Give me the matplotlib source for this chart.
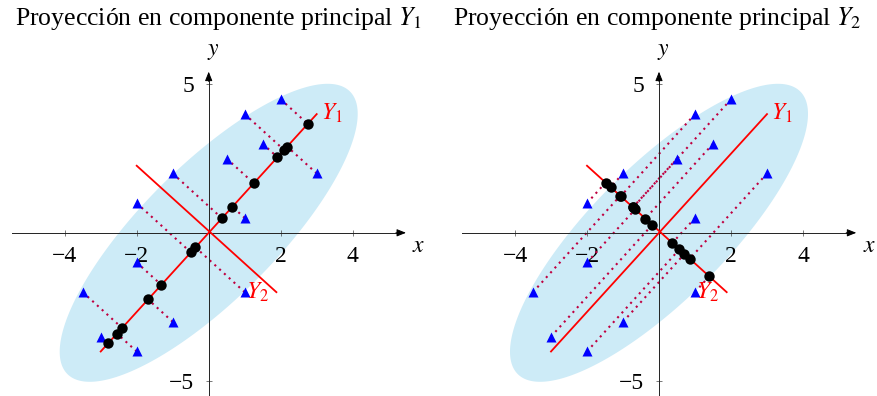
import numpy as np
import matplotlib.pyplot as plt

plt.rcParams['font.family'] = ['Liberation Serif', 'DejaVu Serif']
plt.rcParams['mathtext.fontset'] = 'stix'

# observaciones (x, y)
obs_x = [-3.5, -3, -2, -2, -2, -1, -1, 1, 0.5, 1, 1, 1.5, 2, 3]
obs_y = [-2, -3.5, -4, -1, 1, 2, -3, 4, 2.5, 0.5, -2, 3, 4.5, 2]

# extremos de las rectas de las componentes principales
y1_seg = [(-3.0, -4.0), (3.0, 4.0)]
y2_seg = [(-2.0, 2.26), (1.88, -2.0)]

xticks = [-4, -2, 2, 4]
yticks = [-5, 5]

# elipse: semiejes en unidades de x, girada 45 grados en pantalla
ell_a, ell_b, ell_ang = 5.55, 1.86, 45.0

c_ell = '#cdebf7'
c_proj = '#bf0040'
W, H = 877, 396

fig = plt.figure(figsize=(W / 100, H / 100), dpi=100)
ax1 = fig.add_axes([10.7 / W, 0, 396 / W, 326.4 / H])
ax2 = fig.add_axes([461 / W, 0, 396 / W, 326.4 / H])


def proyectar(ax, px, py, seg):
    # proyeccion ortogonal sobre la recta, medida en el plano de la pantalla
    T = ax.transData
    P = T.transform(np.column_stack([px, py]))
    A, B = T.transform(np.array(seg))
    d = (B - A) / np.linalg.norm(B - A)
    Q = A + np.outer((P - A) @ d, d)
    return T.inverted().transform(Q)


def ejes(ax):
    ax.set_xlim(-5.5, 5.5)
    ax.set_ylim(-5.5, 5.5)
    for s in ['top', 'right']:
        ax.spines[s].set_visible(False)
    ax.spines['left'].set_position(('data', 0))
    ax.spines['bottom'].set_position(('data', 0))
    ax.spines['left'].set_bounds(-5.5, 5.3)
    ax.spines['bottom'].set_bounds(-5.47, 5.35)
    for s in ['left', 'bottom']:
        ax.spines[s].set_linewidth(0.7)
        ax.spines[s].set_color('#222222')
    ax.set_xticks(xticks)
    ax.set_yticks(yticks)
    ax.set_xticklabels([f'\u2212{-t}' if t < 0 else str(t) for t in xticks])
    ax.set_yticklabels([f'\u2212{-t}' if t < 0 else str(t) for t in yticks])
    ax.tick_params(direction='inout', length=5, width=0.5, color='#444444',
                   labelsize=17)
    ax.tick_params(axis='x', pad=7)
    ax.tick_params(axis='y', pad=8)
    ax.patch.set_visible(False)
    arr = dict(arrowstyle='-|>,head_length=0.55,head_width=0.22', color='k',
               lw=0.7, shrinkA=0, shrinkB=0)
    ax.annotate('', xy=(5.48, 0), xytext=(5.2, 0), arrowprops=arr)
    ax.annotate('', xy=(0, 5.43), xytext=(0, 5.1), arrowprops=arr)
    ax.text(5.84, -0.47, '$x$', fontsize=17, ha='center', va='center')
    ax.text(0.12, 6.1, '$y$', fontsize=17, ha='center', va='center')

    # elipse construida en pixeles y llevada a coordenadas de datos
    T = ax.transData
    o = T.transform((0, 0))
    ux = T.transform((1, 0))[0] - o[0]
    t = np.linspace(0, 2 * np.pi, 300)
    r = np.deg2rad(ell_ang)
    u = ell_a * ux * np.cos(t)
    v = ell_b * ux * np.sin(t)
    pts = np.column_stack([o[0] + u * np.cos(r) - v * np.sin(r),
                           o[1] + u * np.sin(r) + v * np.cos(r)])
    e = T.inverted().transform(pts)
    ax.fill(e[:, 0], e[:, 1], color=c_ell, lw=0, zorder=0)

    for seg in (y1_seg, y2_seg):
        ax.plot([seg[0][0], seg[1][0]], [seg[0][1], seg[1][1]],
                color='red', lw=1.3, zorder=3)
    ax.text(3.42, 4.03, '$Y_1$', color='red', fontsize=17, ha='center', va='center')
    ax.text(1.36, -2.02, '$Y_2$', color='red', fontsize=17, ha='center', va='center',
            zorder=6)


for ax, seg, n, xc in [(ax1, y1_seg, 1, 218), (ax2, y2_seg, 2, 657)]:
    ejes(ax)
    q = proyectar(ax, obs_x, obs_y, seg)
    for i in range(len(obs_x)):
        ax.plot([obs_x[i], q[i, 0]], [obs_y[i], q[i, 1]], color=c_proj, lw=1.5,
                linestyle=(0, (1, 2.1)), zorder=2)
    ax.plot(obs_x, obs_y, '^', color='blue', ms=7, mec='none', zorder=4,
            clip_on=False)
    ax.plot(q[:, 0], q[:, 1], 'o', color='black', ms=7.5, mec='none', zorder=5)
    fig.text(xc / W, 1 - 19 / H, f'Proyección en componente principal $Y_{n}$',
             fontsize=18.5, ha='center', va='center')

fig.savefig('out.png', dpi=100)
